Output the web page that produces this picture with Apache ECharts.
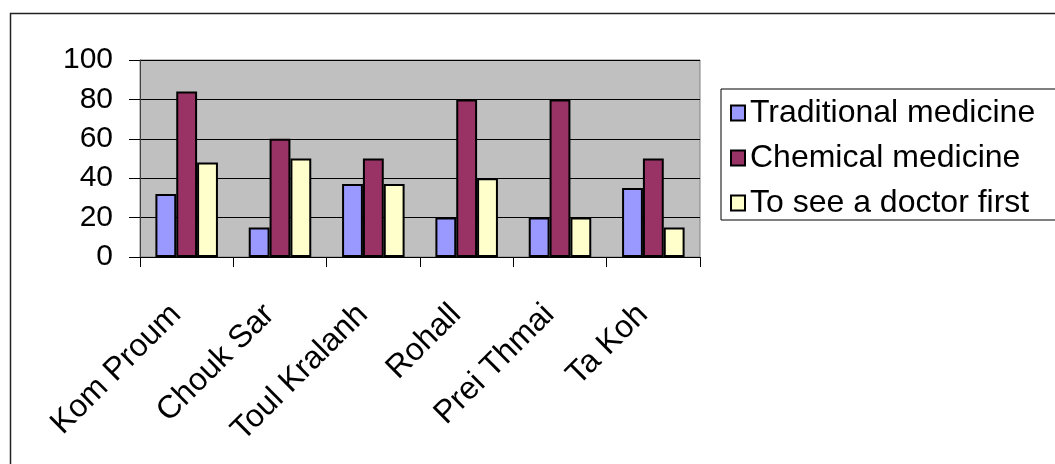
<!DOCTYPE html>
<html>
<head>
<meta charset="utf-8">
<script src="https://cdn.jsdelivr.net/npm/echarts@6/dist/echarts.min.js"></script>
<style>
  html, body { margin: 0; padding: 0; background: #fff; }
  #chart { width: 1055px; height: 464px; }
</style>
</head>
<body>
<div id="chart"></div>
<script>
// Villages surveyed
const villages = ['Kom Proum', 'Chouk Sar', 'Toul Kralanh', 'Rohall', 'Prei Thmai', 'Ta Koh'];

// Share of respondents (%) by first treatment choice
const traditional = [32, 15, 37, 20, 20, 35];
const chemical = [84, 60, 50, 80, 80, 50];
const doctorFirst = [48, 50, 37, 40, 20, 15];

const seriesNames = ['Traditional medicine', 'Chemical medicine', 'To see a doctor first'];
const seriesColors = ['#9999FF', '#993366', '#FFFFCC'];
const seriesData = [traditional, chemical, doctorFirst];

const FONT = '"Liberation Sans", Arial, sans-serif';

const chart = echarts.init(document.getElementById('chart'), null, { renderer: 'canvas' });

chart.setOption({
  animation: false,
  backgroundColor: '#ffffff',
  textStyle: { fontFamily: FONT, color: '#000' },
  graphic: [{
    type: 'rect',
    shape: { x: 10.5, y: 13.5, width: 1100, height: 500 },
    style: { fill: 'none', stroke: '#222', lineWidth: 1.5 },
    silent: true,
    z: 0
  }],
  grid: {
    left: 140, right: 355, top: 60, bottom: 207,
    show: true,
    backgroundColor: '#C0C0C0',
    borderColor: '#808080',
    borderWidth: 1
  },
  legend: {
    orient: 'vertical',
    left: 721, top: 89,
    padding: [7, 60, 0, 9],
    itemGap: 11,
    itemWidth: 14, itemHeight: 15,
    icon: 'rect',
    backgroundColor: '#ffffff',
    borderColor: '#000',
    borderWidth: 1,
    textStyle: { fontFamily: FONT, fontSize: 32, color: '#000', lineHeight: 34 },
    data: seriesNames
  },
  xAxis: {
    type: 'category',
    data: villages,
    boundaryGap: true,
    axisLine: { lineStyle: { color: '#000', width: 1 } },
    axisTick: { show: true, length: 10, lineStyle: { color: '#000' } },
    axisLabel: {
      rotate: 45, margin: 42, interval: 0,
      padding: [0, 15, 0, 0],
      fontFamily: FONT, fontSize: 32, color: '#000'
    },
    splitLine: { show: false }
  },
  yAxis: {
    type: 'value',
    min: 0, max: 100, interval: 20,
    axisLine: { show: true, lineStyle: { color: '#404040', width: 1 } },
    axisTick: { show: true, length: 11, lineStyle: { color: '#000' } },
    axisLabel: { margin: 27, fontFamily: FONT, fontSize: 30, color: '#000' },
    splitLine: { show: true, lineStyle: { color: '#000', width: 1 } }
  },
  series: seriesNames.map((name, i) => ({
    name: name,
    type: 'bar',
    data: seriesData[i],
    barGap: 0,
    barCategoryGap: '33%',
    itemStyle: { color: seriesColors[i], borderColor: '#000', borderWidth: 2 }
  }))
});
</script>
</body>
</html>
